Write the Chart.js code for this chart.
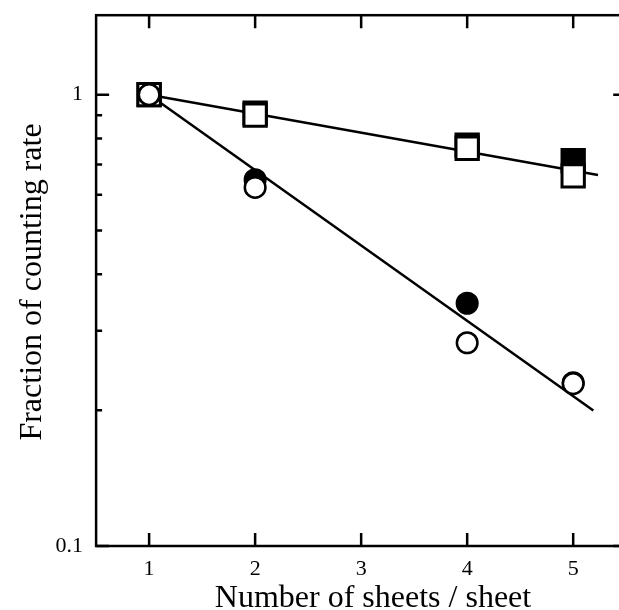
<!DOCTYPE html>
<html><head><meta charset="utf-8">
<script src="https://cdn.jsdelivr.net/npm/chart.js@4/dist/chart.umd.min.js"></script>
<style>html,body{margin:0;padding:0;background:#fff;overflow:hidden;}</style>
</head><body>
<canvas id="c" width="640" height="610"></canvas>
<script>
// ---- data ----
const sheets = [1, 2, 4, 5];
const openSquares   = [1.0, 0.901, 0.761, 0.661];
const filledSquares = [1.0, 0.910, 0.773, 0.714];
const openCircles   = [1.0, 0.623, 0.282, 0.229];
const filledCircles = [1.0, 0.648, 0.345, 0.230];
const fitSquareX = [1, 5.234];
const fitSquareY = [1, 0.664];
const fitCircleX = [1, 5.19];
const fitCircleY = [1, 0.1997];
const xTicks = [1, 2, 3, 4, 5];
const yMajor = [0.1, 1];
const yMajorLabels = ['0.1', '1'];
const yMinor = [0.2, 0.3, 0.4, 0.5, 0.6, 0.7, 0.8, 0.9];
const xTitle = 'Number of sheets / sheet';
const yTitle = 'Fraction of counting rate';

const FONT = '"Liberation Serif", "Times New Roman", serif';
const pts = (xs, ys) => xs.map((x, i) => ({x: x, y: ys[i]}));

const framePlugin = {
  id: 'frame',
  afterDraw(chart) {
    const {ctx, chartArea: a, scales: {x, y}} = chart;
    ctx.save();
    ctx.strokeStyle = '#000';
    ctx.lineWidth = 2.5;
    ctx.strokeRect(a.left, a.top, a.right - a.left, a.bottom - a.top);
    ctx.beginPath();
    xTicks.forEach(v => {
      const px = x.getPixelForValue(v);
      ctx.moveTo(px, a.bottom); ctx.lineTo(px, a.bottom - 13);
      ctx.moveTo(px, a.top); ctx.lineTo(px, a.top + 13);
    });
    yMajor.forEach(v => {
      const py = y.getPixelForValue(v);
      ctx.moveTo(a.left, py); ctx.lineTo(a.left + 13, py);
      ctx.moveTo(a.right, py); ctx.lineTo(a.right - 13, py);
    });
    yMinor.forEach(v => {
      const py = y.getPixelForValue(v);
      ctx.moveTo(a.left, py); ctx.lineTo(a.left + 6, py);
    });
    ctx.stroke();
    // axis titles
    ctx.fillStyle = '#000';
    ctx.font = '32px ' + FONT;
    ctx.textAlign = 'center';
    ctx.textBaseline = 'alphabetic';
    ctx.fillText(xTitle, 373, 607);
    ctx.translate(41, 282);
    ctx.rotate(-Math.PI / 2);
    ctx.fillText(yTitle, 0, 0);
    ctx.restore();
  }
};

new Chart(document.getElementById('c'), {
  type: 'scatter',
  data: {
    datasets: [
      {label: 'open circles', data: pts(sheets, openCircles), pointStyle: 'circle', pointRadius: 10.3,
       backgroundColor: '#fff', borderColor: '#000', pointBorderWidth: 2.5, showLine: false},
      {label: 'filled circles', data: pts(sheets, filledCircles), pointStyle: 'circle', pointRadius: 10.3,
       backgroundColor: '#000', borderColor: '#000', pointBorderWidth: 2.5, showLine: false},
      {label: 'open squares', data: pts(sheets, openSquares), pointStyle: 'rect', pointRadius: 15.8,
       backgroundColor: '#fff', borderColor: '#000', pointBorderWidth: 3, showLine: false},
      {label: 'filled squares', data: pts(sheets, filledSquares), pointStyle: 'rect', pointRadius: 15.8,
       backgroundColor: '#000', borderColor: '#000', pointBorderWidth: 3, showLine: false},
      {label: 'fit squares', data: pts(fitSquareX, fitSquareY), showLine: true, pointRadius: 0,
       borderColor: '#000', borderWidth: 2.5},
      {label: 'fit circles', data: pts(fitCircleX, fitCircleY), showLine: true, pointRadius: 0,
       borderColor: '#000', borderWidth: 2.5}
    ]
  },
  options: {
    responsive: false,
    devicePixelRatio: 1,
    animation: false,
    events: [],
    layout: {autoPadding: false, padding: {top: 15.2, right: 13.8, left: 0, bottom: 0}},
    plugins: {legend: {display: false}, tooltip: {enabled: false}},
    scales: {
      x: {
        type: 'linear', min: 0.5, max: 5.5,
        grid: {display: false, drawTicks: false},
        border: {display: false},
        afterBuildTicks: s => { s.ticks = xTicks.map(v => ({value: v})); },
        afterFit: s => { s.height = 64; s.paddingLeft = 0; s.paddingRight = 0; },
        ticks: {padding: 10, color: '#000', font: {family: FONT, size: 22}, maxRotation: 0,
                callback: v => String(v)}
      },
      y: {
        type: 'logarithmic', min: 0.1, max: 1.5,
        grid: {display: false, drawTicks: false},
        border: {display: false},
        afterBuildTicks: s => { s.ticks = yMajor.map(v => ({value: v})); },
        afterFit: s => { s.width = 96.1; s.paddingTop = 0; s.paddingBottom = 0; },
        ticks: {padding: 13, color: '#000', font: {family: FONT, size: 22},
                callback: v => { const i = yMajor.indexOf(v); return i >= 0 ? yMajorLabels[i] : ''; }}
      }
    }
  },
  plugins: [framePlugin]
});
</script>
</body></html>
